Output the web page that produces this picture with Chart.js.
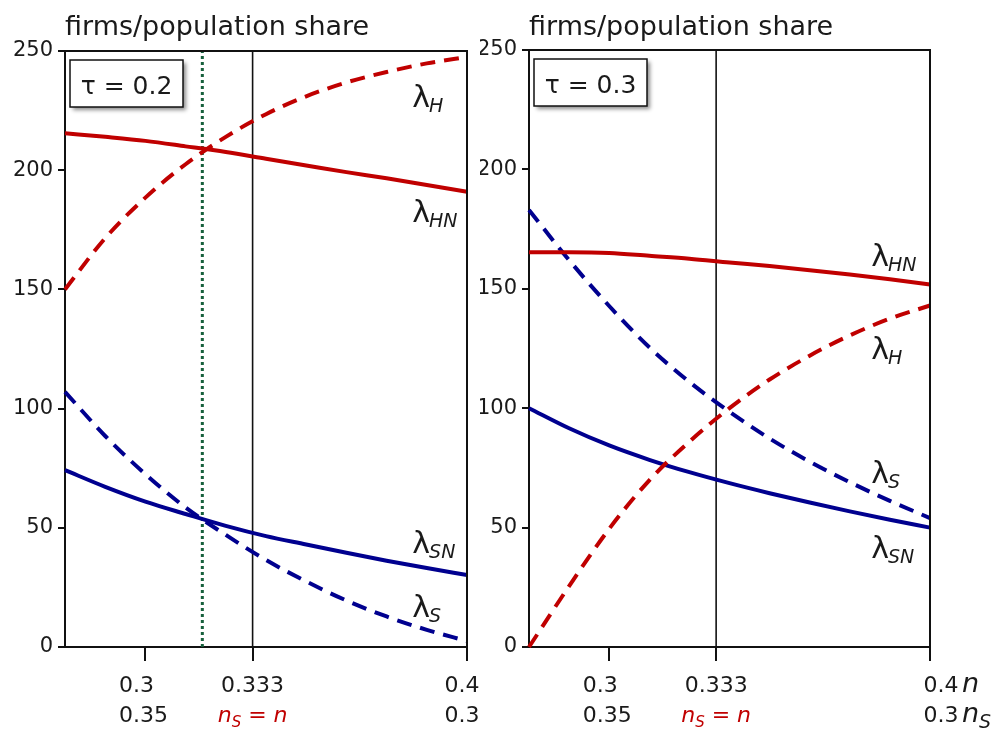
<!DOCTYPE html>
<html>
<head>
<meta charset="utf-8">
<script src="https://cdn.jsdelivr.net/npm/chart.js@4.4.1/dist/chart.umd.min.js"></script>
<style>
  body { margin: 0; background: #fff; }
  .panel { position: absolute; top: 0; }
</style>
</head>
<body>
<div class="panel" style="left:0"><canvas id="leftChart" width="480" height="731"></canvas></div>
<div class="panel" style="left:480px"><canvas id="rightChart" width="514" height="731"></canvas></div>
<script>
// n values (x axis)
const nValues = [0.275, 0.2875, 0.3, 0.3125, 0.325, 0.3375, 0.35, 0.3625, 0.375, 0.3875, 0.4];

// tau = 0.2
const lamH_02  = [150, 171.5, 188.5, 202.5, 214, 223.5, 231, 236.8, 241.2, 244.8, 247.5];
const lamHN_02 = [215.5, 214, 212.3, 210, 207.6, 204.8, 202, 199.2, 196.6, 193.8, 191];
const lamS_02  = [107, 88.5, 72.5, 58.5, 47, 36.5, 27.5, 19.5, 12.8, 7.2, 2.5];
const lamSN_02 = [74.2, 67.2, 61, 55.8, 50.8, 46.5, 43, 39.5, 36.2, 33.1, 30.2];

// tau = 0.3
const lamH_03  = [0, 25.5, 49.5, 69.8, 86, 100, 112, 122, 130.5, 137.5, 143];
const lamHN_03 = [165.3, 165.3, 165, 163.8, 162.6, 161, 159.5, 157.8, 156, 154, 151.8];
const lamS_03  = [183, 162, 142.8, 125.5, 111, 98.5, 87.3, 77.6, 69, 61.2, 54];
const lamSN_03 = [100, 91.6, 84.4, 78.4, 73.2, 68.6, 64.4, 60.5, 56.8, 53.3, 50];

// axis ticks / labels
const xTicks = [0.3, 1 / 3, 0.4];
const xTickLabels = ['0.3', '0.333', '0.4'];
const xTickLabelsNs = ['0.35', null, '0.3'];   // null = "nS = n"
const yTicks = [0, 50, 100, 150, 200, 250];

const nEqual = 1 / 3;      // nS = n
const nCross02 = 0.3177;   // dotted line, tau = 0.2

const RED = '#c00000';
const BLUE = '#00008f';
const GREEN = '#17603c';
const INK = '#1a1a1a';
const FONT = '"DejaVu Sans", Verdana, sans-serif';

function curve(vals, color, dashed) {
    return {
        data: nValues.map((n, i) => ({ x: n, y: vals[i] })),
        borderColor: color,
        borderWidth: 4,
        borderDash: dashed ? [15, 9] : [],
        pointRadius: 0,
        cubicInterpolationMode: 'monotone',
        clip: false,
        order: 1
    };
}

function vline(n, color, width, dash) {
    return {
        data: [{ x: n, y: 0 }, { x: n, y: 250 }],
        borderColor: color,
        borderWidth: width,
        borderDash: dash,
        pointRadius: 0,
        order: 5
    };
}

function drawLambda(ctx, x, y, sub) {
    ctx.font = '30px ' + FONT;
    ctx.fillText('\u03bb', x, y);
    const w = ctx.measureText('\u03bb').width;
    ctx.font = 'italic 19px ' + FONT;
    ctx.fillText(sub, x + w - 1, y + 5);
}

function drawNs(ctx, cx, y, color) {
    // italic "n_S = n", centered at cx
    ctx.fillStyle = color;
    ctx.font = 'italic 22px ' + FONT;
    const wn = ctx.measureText('n').width;
    ctx.font = 'italic 15px ' + FONT;
    const ws = ctx.measureText('S').width;
    ctx.font = '22px ' + FONT;
    const we = ctx.measureText(' = ').width;
    const total = wn + ws + we + wn;
    let x = cx - total / 2;
    ctx.font = 'italic 22px ' + FONT;
    ctx.fillText('n', x, y); x += wn;
    ctx.font = 'italic 15px ' + FONT;
    ctx.fillText('S', x, y + 5); x += ws;
    ctx.font = '22px ' + FONT;
    ctx.fillText(' = ', x, y); x += we;
    ctx.font = 'italic 22px ' + FONT;
    ctx.fillText('n', x, y);
}

function decoPlugin(p) {
    return {
        id: 'panelDeco',
        afterDraw(chart) {
            const ctx = chart.ctx, a = chart.chartArea;
            const xs = chart.scales.x, ys = chart.scales.y;
            ctx.save();
            ctx.textBaseline = 'alphabetic';

            // top and right frame
            ctx.strokeStyle = '#111';
            ctx.lineWidth = 2;
            ctx.beginPath();
            ctx.moveTo(a.left, a.top);
            ctx.lineTo(a.right, a.top);
            ctx.lineTo(a.right, a.bottom);
            ctx.stroke();

            // title
            ctx.fillStyle = INK;
            ctx.textAlign = 'left';
            ctx.font = '27px ' + FONT;
            ctx.fillText('firms/population share', a.left, 35);

            // tau box with shadow
            const bx = a.left + 5, by = a.top + 9, bw = 113, bh = 47;
            ctx.save();
            ctx.shadowColor = 'rgba(0,0,0,0.45)';
            ctx.shadowOffsetX = 3;
            ctx.shadowOffsetY = 3;
            ctx.shadowBlur = 4;
            ctx.fillStyle = '#fff';
            ctx.fillRect(bx, by, bw, bh);
            ctx.restore();
            ctx.lineWidth = 1.5;
            ctx.strokeRect(bx, by, bw, bh);
            ctx.fillStyle = INK;
            ctx.font = '25px ' + FONT;
            ctx.textAlign = 'center';
            ctx.fillText('\u03c4 = ' + p.tau, bx + bw / 2, by + 34);

            // curve labels
            ctx.textAlign = 'left';
            p.labels.forEach(l => {
                drawLambda(ctx, xs.getPixelForValue(l.n), ys.getPixelForValue(l.v), l.sub);
            });

            // x tick labels, two rows (n and nS)
            const y1 = a.bottom + 45, y2 = a.bottom + 75;
            xTicks.forEach((v, i) => {
                const cx = xs.getPixelForValue(v) + p.labelDx[i];
                ctx.font = '22px ' + FONT;
                ctx.fillStyle = INK;
                if (xTickLabelsNs[i] === null) {
                    ctx.textAlign = 'center';
                    ctx.fillText(xTickLabels[i], cx, y1);
                    ctx.textAlign = 'left';
                    drawNs(ctx, cx, y2, RED);
                } else {
                    const w = Math.max(ctx.measureText(xTickLabels[i]).width, ctx.measureText(xTickLabelsNs[i]).width);
                    ctx.textAlign = 'left';
                    ctx.fillText(xTickLabels[i], cx - w / 2, y1);
                    ctx.fillText(xTickLabelsNs[i], cx - w / 2, y2);
                }
            });

            // axis names on the right panel
            if (p.axisNames) {
                ctx.fillStyle = INK;
                ctx.textAlign = 'left';
                const ax = a.right + 32;
                ctx.font = 'italic 27px ' + FONT;
                ctx.fillText('n', ax, y1);
                ctx.fillText('n', ax, y2);
                const wn = ctx.measureText('n').width;
                ctx.font = 'italic 19px ' + FONT;
                ctx.fillText('S', ax + wn, y2 + 6);
            }
            ctx.restore();
        }
    };
}

function makePanel(id, p) {
    const datasets = [
        curve(p.lamHN, RED, false),
        curve(p.lamH, RED, true),
        curve(p.lamSN, BLUE, false),
        curve(p.lamS, BLUE, true),
        vline(nEqual, '#111', 1.6, [])
    ];
    if (p.crossN) datasets.push(vline(p.crossN, GREEN, 3, [3, 3]));

    return new Chart(document.getElementById(id), {
        type: 'line',
        data: { datasets },
        options: {
            responsive: false,
            animation: false,
            layout: { padding: { top: p.padTop, right: p.padRight, bottom: 0, left: 0 } },
            plugins: { legend: { display: false }, tooltip: { enabled: false } },
            scales: {
                x: {
                    type: 'linear',
                    min: 0.275,
                    max: 0.4,
                    afterBuildTicks: s => { s.ticks = xTicks.map(v => ({ value: v })); },
                    afterFit: s => { s.height = 84; },
                    ticks: { display: false },
                    grid: { drawOnChartArea: false, tickLength: 14, color: '#111', lineWidth: 2 },
                    border: { color: '#111', width: 2 }
                },
                y: {
                    min: 0,
                    max: 250,
                    afterBuildTicks: s => { s.ticks = yTicks.map(v => ({ value: v })); },
                    afterFit: s => { s.width = p.yWidth; },
                    ticks: { color: INK, font: { family: FONT, size: 21 }, padding: 5 },
                    grid: { drawOnChartArea: false, tickLength: 7, color: '#111', lineWidth: 2 },
                    border: { color: '#111', width: 2 }
                }
            }
        },
        plugins: [decoPlugin(p)]
    });
}

makePanel('leftChart', {
    tau: '0.2',
    lamH: lamH_02, lamHN: lamHN_02, lamS: lamS_02, lamSN: lamSN_02,
    crossN: nCross02,
    padTop: 51, padRight: 13, yWidth: 65,
    labelDx: [-2, 0, -5],
    labels: [
        { n: 0.383, v: 226.5, sub: 'H' },
        { n: 0.383, v: 178.3, sub: 'HN' },
        { n: 0.383, v: 39.4, sub: 'SN' },
        { n: 0.383, v: 12.6, sub: 'S' }
    ]
});

makePanel('rightChart', {
    tau: '0.3',
    lamH: lamH_03, lamHN: lamHN_03, lamS: lamS_03, lamSN: lamSN_03,
    crossN: null,
    padTop: 50, padRight: 64, yWidth: 49,
    labelDx: [-2, 0, 11],
    axisNames: true,
    labels: [
        { n: 0.3817, v: 159.4, sub: 'HN' },
        { n: 0.3817, v: 120.4, sub: 'H' },
        { n: 0.3817, v: 68.8, sub: 'S' },
        { n: 0.3817, v: 37.3, sub: 'SN' }
    ]
});
</script>
</body>
</html>
